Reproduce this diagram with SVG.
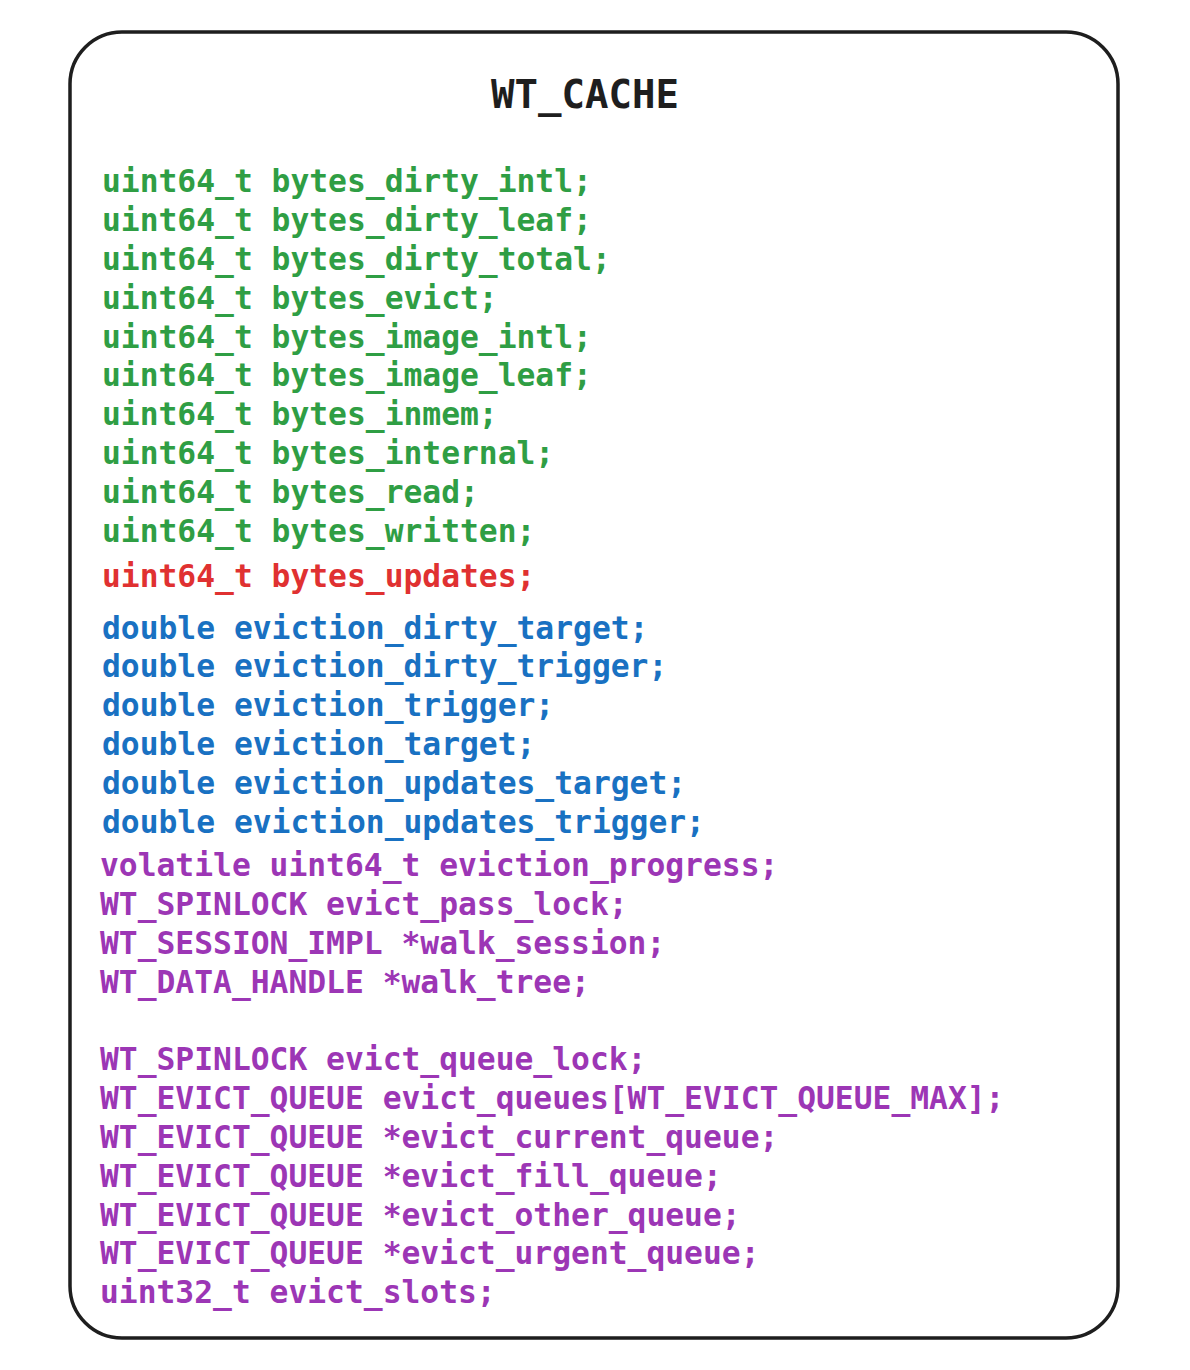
<svg xmlns="http://www.w3.org/2000/svg" width="1190" height="1370" viewBox="0 0 1190 1370">
<style>
text{font-family:"DejaVu Sans Mono","Liberation Mono",monospace;font-size:31.3px;font-weight:bold}
.g{fill:#2f9e44}.r{fill:#e03131}.b{fill:#1971c2}.p{fill:#9c36b5}
.t{fill:#1e1e1e;font-size:39px;text-anchor:middle}
</style>
<rect x="0" y="0" width="1190" height="1370" fill="#fff"/>
<g id="wt_cache">
<rect x="70" y="32" width="1048" height="1306" rx="52" fill="#fff" stroke="#1e1e1e" stroke-width="3.5"/>
<text class="t" x="585" y="108">WT_CACHE</text>
<g class="g">
<text x="102" y="192">uint64_t bytes_dirty_intl;</text>
<text x="102" y="231">uint64_t bytes_dirty_leaf;</text>
<text x="102" y="270">uint64_t bytes_dirty_total;</text>
<text x="102" y="309">uint64_t bytes_evict;</text>
<text x="102" y="348">uint64_t bytes_image_intl;</text>
<text x="102" y="386">uint64_t bytes_image_leaf;</text>
<text x="102" y="425">uint64_t bytes_inmem;</text>
<text x="102" y="464">uint64_t bytes_internal;</text>
<text x="102" y="503">uint64_t bytes_read;</text>
<text x="102" y="542">uint64_t bytes_written;</text>
</g>
<text class="r" x="102" y="587">uint64_t bytes_updates;</text>
<g class="b">
<text x="102" y="639">double eviction_dirty_target;</text>
<text x="102" y="677">double eviction_dirty_trigger;</text>
<text x="102" y="716">double eviction_trigger;</text>
<text x="102" y="755">double eviction_target;</text>
<text x="102" y="794">double eviction_updates_target;</text>
<text x="102" y="833">double eviction_updates_trigger;</text>
</g>
<g class="p">
<text x="100" y="876">volatile uint64_t eviction_progress;</text>
<text x="100" y="915">WT_SPINLOCK evict_pass_lock;</text>
<text x="100" y="954">WT_SESSION_IMPL *walk_session;</text>
<text x="100" y="993">WT_DATA_HANDLE *walk_tree;</text>
<text x="100" y="1070">WT_SPINLOCK evict_queue_lock;</text>
<text x="100" y="1109">WT_EVICT_QUEUE evict_queues[WT_EVICT_QUEUE_MAX];</text>
<text x="100" y="1148">WT_EVICT_QUEUE *evict_current_queue;</text>
<text x="100" y="1187">WT_EVICT_QUEUE *evict_fill_queue;</text>
<text x="100" y="1226">WT_EVICT_QUEUE *evict_other_queue;</text>
<text x="100" y="1264">WT_EVICT_QUEUE *evict_urgent_queue;</text>
<text x="100" y="1303">uint32_t evict_slots;</text>
</g>
</g>
<g id="connectors"/>
</svg>
